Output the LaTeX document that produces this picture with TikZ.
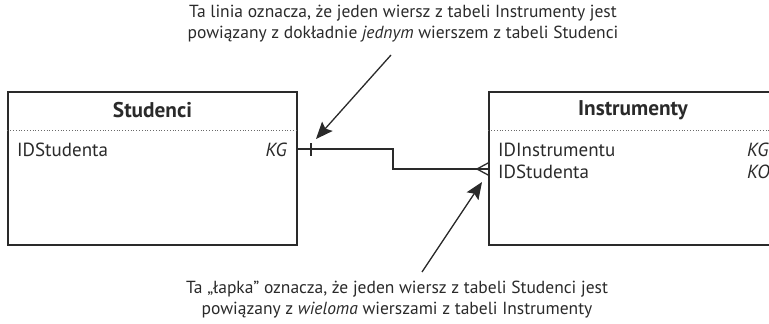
\documentclass[tikz,border=0pt]{standalone}
\usepackage{fontspec}
\setmainfont{PT Sans}
\usetikzlibrary{arrows.meta}
\definecolor{ink}{HTML}{2A2A2A}
\tikzset{
  tbl/.style={draw=ink, line width=1.3pt, rectangle, inner sep=0pt},
  hdr/.style={font=\fontsize{21.3}{24}\selectfont\bfseries, text=ink, inner sep=0pt},
  row/.style={font=\fontsize{19}{22}\selectfont, text=ink, inner sep=0pt},
  note/.style={font=\fontsize{17.5}{21}\selectfont, text=ink, align=center, inner sep=0pt},
  sep/.style={draw=ink!70, line width=0.8pt, dotted},
  conn/.style={draw=ink, line width=1.3pt},
  callout/.style={draw=ink, line width=1.3pt, -{Stealth[length=17pt,width=14pt,inset=3pt]}}
}
\begin{document}
\begin{tikzpicture}[x=1pt,y=-1pt]
\useasboundingbox (0,0) rectangle (769,324);
% tables
\node[tbl, minimum width=289pt, minimum height=153pt] (stud) at (152.5,168.5) {};
\node[tbl, minimum width=288pt, minimum height=153pt] (instr) at (633,168.5) {};
\node[hdr] (sh) at (152.5,110) {Studenci};
\node[hdr] (ih) at (633,110) {Instrumenty};
\draw[sep] (stud.west |- 0,130) -- (stud.east |- 0,130);
\draw[sep] (instr.west |- 0,130) -- (instr.east |- 0,130);
% rows
\node[row, anchor=west] (sid) at (17,150) {IDStudenta};
\node[row, anchor=east] (skg) at (287,150) {\itshape KG};
\node[row, anchor=west] (iid) at (498,150) {IDInstrumentu};
\node[row, anchor=west] (isid) at (498,172) {IDStudenta};
\node[row, anchor=west] (ikg) at (747,150) {\itshape KG};
\node[row, anchor=west] (iko) at (747,172) {\itshape KO};
% connector
\coordinate (bend) at (393,0);
\coordinate (s1) at (297,149);
\coordinate (e1) at (489,169);
\draw[conn] (s1) -- (bend |- s1) -- (bend |- e1) -- (e1);
\coordinate (bar) at (311,149);
\draw[conn] ([yshift=-6.5pt]bar) -- ([yshift=6.5pt]bar);
\coordinate (crow) at (477,169);
\draw[conn] (489,162.5) -- (crow) -- (489,175.5);
% notes
\node[note] (top) at (403,24) {Ta linia oznacza, że jeden wiersz z tabeli Instrumenty jest\\powiązany z dokładnie \textit{jednym} wierszem z tabeli Studenci};
\node[note] (bot) at (397,300) {Ta „łapka” oznacza, że jeden wiersz z tabeli Studenci jest\\powiązany z \textit{wieloma} wierszami z tabeli Instrumenty};
\coordinate (t1) at (391,55);
\coordinate (t2) at (316,139);
\coordinate (b1) at (422,272);
\coordinate (b2) at (482,182);
\draw[callout] (t1) -- (t2);
\draw[callout] (b1) -- (b2);
\end{tikzpicture}
\end{document}
